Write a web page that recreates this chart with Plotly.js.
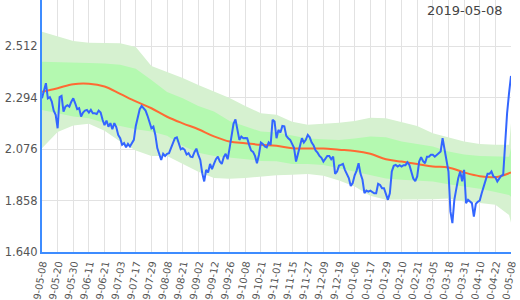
<!DOCTYPE html>
<html><head><meta charset="utf-8">
<script src="https://cdn.plot.ly/plotly-3.0.1.min.js"></script>
<style>html,body{margin:0;padding:0;background:#fff}#chart{width:520px;height:300px}</style>
</head><body><div id="chart"></div>
<script>
const titleText = "2019-05-08";
const dateLabels = ["2019-05-08","2019-05-20","2019-05-30","2019-06-11","2019-06-21","2019-07-03","2019-07-17","2019-07-29","2019-08-08","2019-08-21","2019-09-02","2019-09-12","2019-09-26","2019-10-08","2019-10-21","2019-11-01","2019-11-15","2019-11-27","2019-12-09","2019-12-19","2020-01-06","2020-01-17","2020-01-29","2020-02-10","2020-02-21","2020-03-05","2020-03-18","2020-03-31","2020-04-10","2020-04-22","2020-05-08"];
const yTickVals = [1.640, 1.858, 2.076, 2.294, 2.512];
const yTickText = ["1.640", "1.858", "2.076", "2.294", "2.512"];

// daily values, one per trading day
const closeValues = [
2.291,2.324,2.355,2.291,2.296,2.277,2.239,2.221,2.164,2.296,
2.301,2.235,2.256,2.262,2.256,2.277,2.291,2.270,2.245,2.249,
2.214,2.231,2.239,2.242,2.231,2.242,2.228,2.228,2.225,2.239,
2.231,2.200,2.177,2.197,2.171,2.186,2.160,2.186,2.169,2.136,
2.122,2.094,2.101,2.084,2.098,2.087,2.104,2.115,2.174,2.214,
2.245,2.259,2.250,2.239,2.217,2.193,2.164,2.171,2.136,2.080,
2.051,2.030,2.056,2.047,2.056,2.059,2.080,2.105,2.122,2.126,
2.098,2.075,2.080,2.073,2.053,2.059,2.044,2.042,2.063,2.078,
2.051,2.030,1.974,1.939,1.988,1.977,2.013,1.991,2.013,2.033,
2.044,2.023,2.013,2.042,2.056,2.033,2.080,2.143,2.183,2.202,
2.157,2.115,2.129,2.122,2.123,2.122,2.094,2.070,2.064,2.047,
2.016,2.051,2.104,2.098,2.087,2.083,2.104,2.094,2.200,2.193,
2.122,2.157,2.146,2.174,2.172,2.132,2.122,2.115,2.098,2.080,
2.023,2.059,2.090,2.122,2.104,2.115,2.136,2.126,2.104,2.091,
2.070,2.061,2.047,2.039,2.023,2.033,2.047,2.047,2.033,2.044,
1.971,1.981,2.006,2.009,2.013,1.988,1.967,1.953,1.920,1.932,
1.965,1.985,2.016,1.971,1.946,1.889,1.900,1.896,1.900,1.896,
1.889,1.889,1.929,1.924,1.910,1.910,1.882,1.861,1.889,1.981,
2.005,2.009,2.002,2.008,2.002,2.008,2.008,2.020,2.009,1.977,
1.951,1.940,1.960,2.023,2.042,2.025,2.016,2.044,2.044,2.052,
2.052,2.044,2.052,2.056,2.066,2.122,2.073,2.030,1.981,1.812,
1.762,1.861,1.910,1.953,1.981,1.939,1.988,1.847,1.861,1.854,
1.847,1.790,1.844,1.853,1.858,1.889,1.917,1.946,1.971,1.971,
1.981,1.960,1.956,1.939,1.953,1.963,1.967,2.122,2.228,2.313,
2.386];

// band samples (trading-day index)
const bandDay = [0,8,16,24,32,40,48,56,64,72,80,88,96,104,112,120,128,136,144,152,160,168,176,184,192,200,208,216,224,232,239,240];
const outerUpper = [2.573,2.555,2.534,2.526,2.526,2.524,2.509,2.428,2.403,2.377,2.347,2.319,2.292,2.259,2.228,2.221,2.192,2.179,2.183,2.188,2.195,2.209,2.207,2.192,2.174,2.143,2.126,2.108,2.098,2.094,2.094,2.187];
const innerUpper = [2.446,2.445,2.445,2.441,2.439,2.433,2.416,2.369,2.318,2.291,2.259,2.235,2.195,2.171,2.150,2.146,2.132,2.121,2.118,2.115,2.121,2.129,2.126,2.108,2.098,2.087,2.066,2.053,2.047,2.044,2.044,2.081];
const innerLower = [2.242,2.228,2.214,2.207,2.186,2.174,2.160,2.150,2.132,2.090,2.060,2.047,2.041,2.035,2.026,2.024,2.013,2.013,2.009,1.995,1.981,1.967,1.951,1.946,1.943,1.939,1.927,1.917,1.908,1.894,1.882,1.874];
const outerLower = [2.080,2.148,2.176,2.183,2.154,2.108,2.070,2.047,2.047,2.013,1.980,1.954,1.950,1.954,1.961,1.965,1.967,1.970,1.963,1.943,1.917,1.878,1.861,1.861,1.861,1.864,1.867,1.854,1.848,1.840,1.797,1.764];

// moving average samples
const maDay = [0,8,16,24,32,40,48,56,64,72,80,88,96,104,112,120,128,136,144,152,160,168,176,184,192,200,208,216,224,232,240];
const maValues = [2.319,2.334,2.351,2.353,2.341,2.310,2.278,2.249,2.213,2.185,2.160,2.130,2.108,2.101,2.094,2.090,2.080,2.078,2.078,2.073,2.068,2.056,2.033,2.023,2.013,2.002,1.998,1.977,1.961,1.957,1.977];

const dayIdx = closeValues.map((_, i) => i);
const tickDays = dateLabels.map((_, k) => k * 8);
const outerColor = "rgb(214,241,208)";
const innerColor = "rgb(180,249,176)";

const traces = [
  {x: bandDay, y: outerLower, type: "scatter", mode: "lines", line: {width: 0, color: outerColor}, hoverinfo: "skip"},
  {x: bandDay, y: outerUpper, type: "scatter", mode: "lines", fill: "tonexty", fillcolor: outerColor, line: {width: 0, color: outerColor}, hoverinfo: "skip"},
  {x: bandDay, y: innerLower, type: "scatter", mode: "lines", line: {width: 0, color: innerColor}, hoverinfo: "skip"},
  {x: bandDay, y: innerUpper, type: "scatter", mode: "lines", fill: "tonexty", fillcolor: innerColor, line: {width: 0, color: innerColor}, hoverinfo: "skip"},
  {x: maDay, y: maValues, type: "scatter", mode: "lines", line: {color: "#ff6a33", width: 2, shape: "spline"}},
  {x: dayIdx, y: closeValues, type: "scatter", mode: "lines", line: {color: "#3366ff", width: 2}}
];

const layout = {
  width: 520, height: 300,
  margin: {l: 42, r: 9, t: 0, b: 48, pad: 0},
  paper_bgcolor: "#fff", plot_bgcolor: "#fff",
  showlegend: false,
  font: {family: "DejaVu Sans, Verdana, sans-serif", size: 11, color: "#555"},
  xaxis: {
    range: [0, 240], tickvals: tickDays, ticktext: dateLabels, tickangle: -80,
    showgrid: true, gridcolor: "#e2e2e2", gridwidth: 1, zeroline: false,
    showline: true, linecolor: "#3d8cff", linewidth: 2, ticks: "",
    tickfont: {size: 10, color: "#555"}, automargin: false
  },
  yaxis: {
    range: [1.64, 2.7076], tickvals: yTickVals, ticktext: yTickText,
    showgrid: true, gridcolor: "#e2e2e2", gridwidth: 1, zeroline: false,
    showline: true, linecolor: "#3d8cff", linewidth: 2, ticks: "",
    tickfont: {size: 11.5, color: "#555"}, automargin: false
  },
  annotations: [{
    text: titleText, xref: "paper", yref: "paper", x: 1, y: 1,
    xanchor: "right", yanchor: "top", xshift: -6, yshift: -1, showarrow: false,
    font: {size: 13, color: "#444", family: "DejaVu Sans, Verdana, sans-serif"}
  }]
};

Plotly.newPlot("chart", traces, layout, {displayModeBar: false, staticPlot: true});
</script>
</body></html>
